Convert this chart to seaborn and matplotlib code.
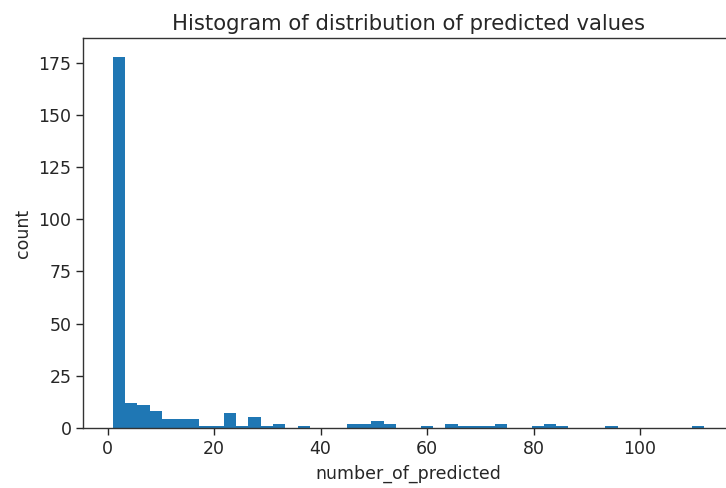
import numpy as np
import pandas as pd
import matplotlib
matplotlib.use("Agg")
import matplotlib.pyplot as plt
import seaborn as sns

# Histogram bins: 48 equal-width bins spanning the observed range
bin_lo = 1
bin_hi = 112
n_bins = 48

# Count of samples falling into each bin (left to right)
bin_counts = [
    178, 12, 11, 8, 4, 4, 4, 1, 1, 7,
    1, 5, 1, 2, 0, 1, 0, 0, 0, 2,
    2, 3, 2, 0, 0, 1, 0, 2, 1, 1,
    1, 2, 0, 0, 1, 2, 1, 0, 0, 0,
    1, 0, 0, 0, 0, 0, 0, 1,
]

title_text = "Histogram of distribution of predicted values"
x_label = "number_of_predicted"
y_label = "count"

width = (bin_hi - bin_lo) / n_bins
centers = bin_lo + width * (np.arange(n_bins) + 0.5)
df = pd.DataFrame({"number_of_predicted": centers, "n": bin_counts})

sns.set_style("ticks")
plt.rcParams["font.family"] = ["DejaVu Sans"]

W, H = 726, 488
fig = plt.figure(figsize=(W / 100, H / 100), dpi=100)
fig.patch.set_facecolor("white")
# the plotting area runs a little past the right edge of the canvas
left, right, top, bottom = 83.3, 733.5, 38.3, 427.7
ax = fig.add_axes([left / W, 1 - bottom / H, (right - left) / W, (bottom - top) / H])

sns.histplot(
    data=df, x="number_of_predicted", weights="n",
    bins=n_bins, binrange=(bin_lo, bin_hi),
    color="#1f77b4", alpha=1.0, edgecolor="none", linewidth=0,
    ax=ax,
)

ax.set_xlim(bin_lo - 0.05 * (bin_hi - bin_lo), bin_hi + 0.05 * (bin_hi - bin_lo))
ax.set_ylim(0, max(bin_counts) * 1.05)
ax.set_yticks([0, 25, 50, 75, 100, 125, 150, 175])
ax.set_xticks([0, 20, 40, 60, 80, 100])

for s in ax.spines.values():
    s.set_visible(True)
    s.set_color("#333333")
    s.set_linewidth(1.0)
ax.spines["right"].set_visible(False)

ax.tick_params(axis="both", labelsize=12.5, colors="#262626", length=5, width=1)
ax.set_title(title_text, fontsize=15.2, color="#262626", pad=6)
ax.set_xlabel(x_label, fontsize=12.5, color="#262626", labelpad=5)
ax.set_ylabel(y_label, fontsize=12.5, color="#262626", labelpad=5)

fig.savefig("out.png", dpi=100)
